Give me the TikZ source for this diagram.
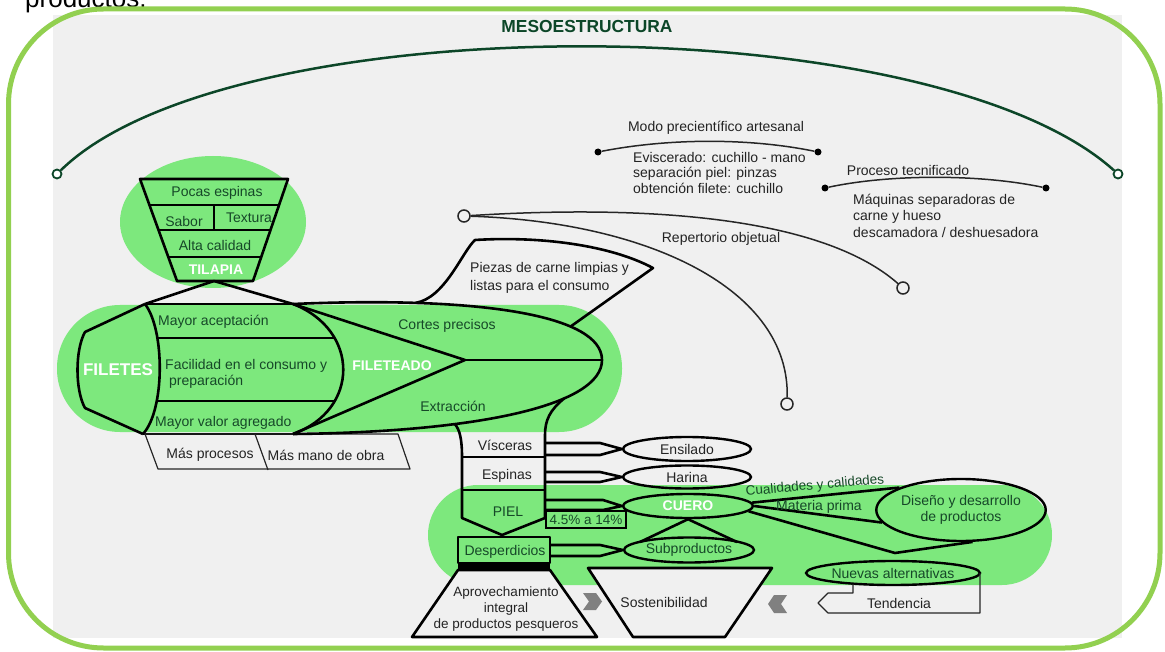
\documentclass[tikz,border=0pt]{standalone}
\usepackage{fontspec}
\setmainfont{Liberation Sans}
\usetikzlibrary{shapes.geometric}
\definecolor{framegreen}{RGB}{146,208,80}
\definecolor{bandgreen}{RGB}{125,232,125}
\definecolor{bggrey}{RGB}{240,240,240}
\definecolor{darkgreen}{RGB}{12,70,40}
\definecolor{txtgreen}{RGB}{22,72,40}
\definecolor{txtgrey}{RGB}{35,35,35}
\definecolor{chevgrey}{RGB}{128,128,128}
\newcommand\lbfont{\fontsize{14}{16}\selectfont}
\newcommand\wbfont{\fontsize{14}{16}\selectfont\bfseries}
\begin{document}
\begin{tikzpicture}[x=1pt,y=-1pt,
  blk/.style={draw=black, line width=2.6pt, line join=round},
  thinln/.style={draw=black!85, line width=1.2pt, line join=round},
  curveln/.style={draw=black!85, line width=1.5pt},
  lbl/.style={font=\lbfont, text=txtgrey, inner sep=0pt},
  glbl/.style={font=\lbfont, text=txtgreen, inner sep=0pt},
  wlbl/.style={font=\wbfont, text=white, inner sep=0pt},
  opencirc/.style={circle, draw=darkgreen, fill=white, line width=1.8pt, minimum size=9pt, inner sep=0pt},
  ringnode/.style={circle, draw=black!85, fill=bggrey, line width=1.5pt, minimum size=12pt, inner sep=0pt},
  dotnode/.style={circle, fill=black, minimum size=7pt, inner sep=0pt},
  ell/.style={ellipse, draw=black, line width=2.4pt, inner sep=0pt, font=\lbfont},
]
\useasboundingbox (0,0) rectangle (1165,652);
\clip (0,0) rectangle (1165,652);
\fill[white] (0,0) rectangle (1165,652);
\node[anchor=base west, font=\fontsize{26}{30}\selectfont, inner sep=0pt] (prod) at (25,8) {productos.};
\fill[bggrey] (53,15) rectangle (1122,638);
\draw[framegreen, line width=5pt, rounded corners=95pt] (8.5,9) rectangle (1160,648);

% title and big arc
\node[font=\fontsize{17.4}{20}\selectfont\bfseries, text=darkgreen, inner sep=0pt] (title) at (587,27) {MESOESTRUCTURA};
\node[opencirc] (c1) at (57,174) {};
\node[opencirc] (c2) at (1118,174) {};
\draw[darkgreen, line width=2.5pt] (c1) .. controls (230,5) and (930,5) .. (c2);

% modo precientifico
\node[lbl] (modo) at (716,128) {Modo precientífico artesanal};
\node[dotnode] (m1) at (598,152) {};
\node[dotnode] (m2) at (818,152) {};
\draw[curveln] (m1) .. controls (670,138) and (750,138) .. (m2);
\node[lbl, anchor=west, align=left, font=\fontsize{14}{15.5}\selectfont] (modotx) at (633,172.5) {Eviscerado: cuchillo - mano\\separación piel: pinzas\\obtención filete: cuchillo};

% proceso tecnificado
\node[lbl] (proc) at (908,170) {Proceso tecnificado};
\node[dotnode] (p1) at (825,188) {};
\node[dotnode] (p2) at (1046,188) {};
\draw[curveln] (p1) .. controls (890,174) and (980,174) .. (p2);
\node[lbl, anchor=west, align=left, font=\fontsize{14}{16.5}\selectfont] (proctx) at (853,215.5) {Máquinas separadoras de\\carne y hueso\\descamadora / deshuesadora};

% repertorio objetual
\node[ringnode] (r0) at (464,216) {};
\node[ringnode] (r1) at (903,288) {};
\node[ringnode] (r2) at (787,404) {};
\draw[curveln] (r0) .. controls (640,205) and (820,215) .. (r1);
\draw[curveln] (r0) .. controls (650,222) and (790,290) .. (r2);
\node[lbl] (rep) at (721,239) {Repertorio objetual};

% green areas
\fill[bandgreen] (213,222) ellipse [x radius=93pt, y radius=66pt];
\fill[bandgreen, rounded corners=63pt] (57,305) rectangle (622,432);
\fill[bandgreen, rounded corners=50pt] (428,485) rectangle (1052,585);

% tilapia funnel
\draw[blk] (140,179) -- (288,179) -- (253,281) -- (177,281) -- cycle;
\draw[blk] (149.4,205) -- (279.1,205);
\draw[blk] (158.5,230) -- (270.5,230);
\draw[blk] (168.3,257) -- (261.2,257);
\draw[blk] (214,205) -- (214,230);
\node[glbl] (pocas) at (217,193) {Pocas espinas};
\node[glbl] (sabor) at (184,221) {Sabor};
\node[glbl] (textura) at (249,218) {Textura};
\node[glbl] (alta) at (215,245) {Alta calidad};
\node[wlbl] (tilapia) at (216,270) {TILAPIA};

% coordinates
\coordinate (fapex) at (214,281);
\coordinate (ft) at (145,304);
\coordinate (fb) at (143,434);
\coordinate (A) at (293,304);
\coordinate (B) at (293,434);
\coordinate (C) at (465,360);
\coordinate (T) at (602,360);

\draw[blk] (ft) -- (fapex) -- (A);

% filetes
\draw[blk] (ft) -- (85,332) .. controls (75,350) and (75,390) .. (85,408) -- (fb);
\draw[blk] (ft) .. controls (165,330) and (165,410) .. (fb);
\draw[blk] (ft) -- (A);
\draw[blk] (fb) -- (B);
\draw[blk] (A) .. controls (360,330) and (360,410) .. (B);
\draw[blk] (157.6,338) -- (335,338);
\draw[blk] (157,401) -- (335,401);
\node[font=\fontsize{17}{19}\selectfont\bfseries, text=white, inner sep=0pt] (filetes) at (118,370) {FILETES};
\node[glbl, anchor=west] (mayac) at (158,322) {Mayor aceptación};
\node[glbl, anchor=west] (facil) at (165,366) {Facilidad en el consumo y};
\node[glbl, anchor=west] (prep) at (169,382) {preparación};
\node[glbl, anchor=west] (mayval) at (155,423) {Mayor valor agregado};

% mas procesos
\draw[thinln] (145,434) -- (398,434) -- (410,469) -- (158,469) -- cycle;
\draw[thinln] (255,434) -- (268,470);
\node[lbl] (masproc) at (210,455) {Más procesos};
\node[lbl] (masmano) at (326,455) {Más mano de obra};

% fileteado lens
\draw[blk] (A) .. controls (480,296) and (602,315) .. (T) coordinate[pos=0.24] (ft1) coordinate[pos=0.7] (ft2);
\draw[blk] (B) .. controls (480,432) and (602,405) .. (T) coordinate[pos=0.33] (cl) coordinate[pos=0.67] (cr);
\draw[blk] (A) -- (C) -- (B);
\draw[blk] (C) -- (T);
\node[wlbl] (filet) at (392,366) {FILETEADO};
\node[glbl] (cortes) at (447,326) {Cortes precisos};
\node[glbl] (extr) at (453,406) {Extracción};

% piezas flag
\draw[blk] (ft1) .. controls (445,298) and (462,252) .. (475,240) .. controls (540,236) and (610,245) .. (653,268) -- (ft2);
\node[lbl, anchor=west, align=left, font=\fontsize{14}{17.5}\selectfont] (piezas) at (470,278) {Piezas de carne limpias y\\listas para el consumo};

% column
\draw[blk] (cl) .. controls (460,430) and (462,440) .. (462,457) -- (462,518) -- (502,535) -- (545,518) -- (545,435) .. controls (545,420) and (550,410) .. (cr);
\draw[blk] (462,457) -- (545,457);
\draw[blk] (462,490) -- (545,490);
\node[lbl] (visc) at (505,445) {Vísceras};
\node[lbl] (espin) at (507,476) {Espinas};
\node[glbl] (piel) at (508,512) {PIEL};

% desperdicios
\draw[blk] (458,537) rectangle (550,563);
\fill[black] (458,563) rectangle (550,570);
\node[glbl] (desp) at (505,552) {Desperdicios};

% trapezoids
\draw[blk, fill=bggrey] (458,570) -- (550,570) -- (597,637) -- (412,637) -- cycle;
\node[lbl, align=center, font=\fontsize{13.5}{16}\selectfont] (aprov) at (506,609) {Aprovechamiento\\integral\\de productos pesqueros};
\draw[blk, fill=bggrey] (588,568) -- (772,568) -- (725,637) -- (633,637) -- cycle;
\node[lbl] (sost) at (664,602) {Sostenibilidad};
\fill[chevgrey] (583,593) -- (596,593) -- (602,601.5) -- (596,610) -- (583,610) -- (589,601.5) -- cycle;
\fill[chevgrey] (787,595) -- (774,595) -- (768,604) -- (774,613) -- (787,613) -- (781,604) -- cycle;

% ellipses
\node[ell, minimum width=128pt, minimum height=24pt, text=txtgrey] (ens) at (687,449) {Ensilado};
\node[ell, minimum width=128pt, minimum height=23pt, text=txtgrey] (har) at (687,477) {Harina};
\node[ell, minimum width=130pt, minimum height=24pt, text=white, font=\wbfont] (cuero) at (688,506) {CUERO};
\node[ell, minimum width=130pt, minimum height=25pt, text=txtgreen] (subp) at (689,550) {Subproductos};
\node[ell, minimum width=160pt, minimum height=62pt, text=txtgreen, align=center] (dis) at (961,510) {Diseño y desarrollo\\de productos};
\node[ell, minimum width=170pt, minimum height=24pt, text=txtgreen] (nuev) at (893,573) {Nuevas alternativas};

% connectors
\draw[blk] (545,443) -- (600,443) -- (ens.west) -- (600,455) -- (545,455);
\draw[blk] (545,472) -- (600,472) -- (har.west) -- (600,482) -- (545,482);
\draw[blk] (545,500) -- (603,500) -- (cuero.west) -- (603,510) -- (545,510);
\draw[blk] (550,545) -- (600,545) -- (subp.west) -- (600,556) -- (550,556);
\node[draw=black, line width=2pt, minimum width=80pt, minimum height=17pt, inner sep=0pt, font=\fontsize{13.5}{16}\selectfont, text=txtgreen] (pct) at (586,519.5) {4.5\% a 14\%};
\draw[blk] (640,542) -- (cuero.south) -- (737,542);
\draw[blk] (cuero.3) -- (dis.160);
\draw[blk] (cuero.0) -- (dis.189);
\draw[blk] (cuero.-5) -- (895,553) -- (dis.290);
\node[glbl, rotate=5, font=\fontsize{13.5}{16}\selectfont] (cual) at (815,486) {Cualidades y calidades};
\node[glbl] (mat) at (819,507) {Materia prima};

% tendencia
\draw[thinln] (853,584) -- (853,593) -- (828,593) -- (818,603) -- (828,613) -- (980,613) -- (980,573);
\node[lbl] (tend) at (899,603) {Tendencia};
\end{tikzpicture}
\end{document}
